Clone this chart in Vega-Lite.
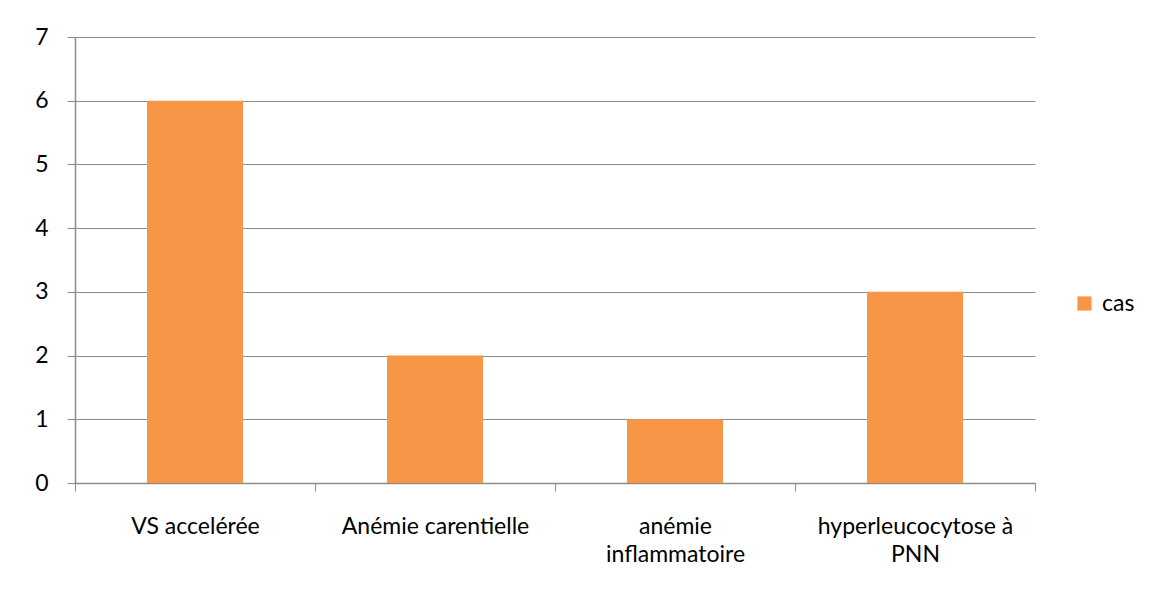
{
  "$schema": "https://vega.github.io/schema/vega-lite/v6.json",
  "autosize": {"type": "none"},
  "width": 960,
  "height": 446,
  "padding": {"left": 75, "top": 37, "right": 119, "bottom": 112},
  "background": "white",
  "data": {
    "values": [
      {"categorie": "VS accelérée", "serie": "cas", "valeur": 6},
      {"categorie": "Anémie carentielle", "serie": "cas", "valeur": 2},
      {"categorie": "anémie inflammatoire", "serie": "cas", "valeur": 1},
      {"categorie": "hyperleucocytose à PNN", "serie": "cas", "valeur": 3}
    ]
  },
  "mark": {"type": "bar", "color": "#F79646", "width": {"band": 0.4}},
  "encoding": {
    "x": {
      "field": "categorie",
      "type": "nominal",
      "sort": null,
      "scale": {"paddingInner": 0, "paddingOuter": 0},
      "axis": {
        "title": null,
        "labelAngle": 0,
        "tickBand": "extent",
        "tickSize": 8,
        "tickColor": "#8c8c8c",
        "domainColor": "#8c8c8c",
        "labelFont": "Lato",
        "labelFontSize": 23,
        "labelColor": "#000000",
        "labelPadding": 24,
        "labelLineHeight": 28,
        "labelLimit": 400,
        "labelBaseline": "top",
        "labelExpr": "datum.label == 'anémie inflammatoire' ? ['anémie', 'inflammatoire'] : datum.label == 'hyperleucocytose à PNN' ? ['hyperleucocytose à', 'PNN'] : datum.label"
      }
    },
    "y": {
      "field": "valeur",
      "type": "quantitative",
      "scale": {"domain": [0, 7], "nice": false},
      "axis": {
        "title": null,
        "values": [0, 1, 2, 3, 4, 5, 6, 7],
        "tickSize": 8,
        "tickColor": "#8c8c8c",
        "domainColor": "#8c8c8c",
        "gridColor": "#8c8c8c",
        "labelFont": "Lato",
        "labelFontSize": 23,
        "labelColor": "#000000",
        "labelPadding": 19
      }
    },
    "fill": {
      "field": "serie",
      "type": "nominal",
      "scale": {"range": ["#F79646"]},
      "legend": {
        "title": null,
        "orient": "none",
        "legendX": 998,
        "legendY": 255,
        "symbolType": "square",
        "symbolSize": 200,
        "symbolStrokeWidth": 0,
        "labelFont": "Lato",
        "labelFontSize": 23,
        "labelColor": "#000000",
        "labelOffset": 6
      }
    }
  },
  "config": {
    "view": {"stroke": null},
    "axis": {"gridOpacity": 1, "domainWidth": 1.5, "gridWidth": 1.2}
  }
}
